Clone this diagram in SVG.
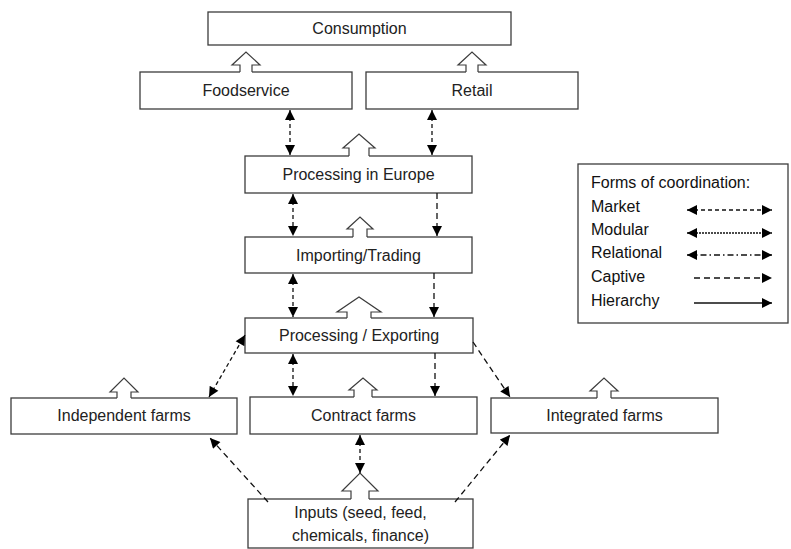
<svg xmlns="http://www.w3.org/2000/svg" width="791" height="549" viewBox="0 0 791 549">
<style>
.box{fill:#fff;stroke:#3c3c3c;stroke-width:1.3}
.t{font-family:"Liberation Sans",Arial,sans-serif;font-size:16px;fill:#222;text-anchor:middle}
.lt{font-family:"Liberation Sans",Arial,sans-serif;font-size:16px;fill:#111}
.hf{fill:#fff;stroke:none}
.ho{fill:none;stroke:#3c3c3c;stroke-width:1.2;stroke-linejoin:miter}
.c{fill:none;stroke:#111;stroke-width:1.3}
.mk{stroke-dasharray:4 3;marker-start:url(#ah);marker-end:url(#ah)}
.md{stroke-dasharray:2 1;marker-start:url(#ah);marker-end:url(#ah)}
.rl{stroke-dasharray:6 3 1.5 3;marker-start:url(#ah);marker-end:url(#ah)}
.cp{stroke-dasharray:6 4;marker-end:url(#ah)}
.hi{marker-end:url(#ah)}
</style>
<defs>
<marker id="ah" viewBox="0 0 10 10" refX="10" refY="5" markerWidth="11" markerHeight="10" markerUnits="userSpaceOnUse" orient="auto-start-reverse">
<path d="M0,0 L10,5 L0,10 z" fill="#000"/>
</marker>
</defs>
<rect width="791" height="549" fill="#fff"/>

<g id="consumption"><rect class="box" x="208" y="12" width="303" height="33"/><text class="t" x="359.5" y="34">Consumption</text></g>
<g id="foodservice"><rect class="box" x="140" y="72" width="212" height="37"/><text class="t" x="246" y="96">Foodservice</text>
<path class="hf" d="M246,52 L260,65 L252,65 L252,73 L240,73 L240,65 L232,65 Z"/><path class="ho" d="M240,72 L240,65 L232,65 L246,52 L260,65 L252,65 L252,72"/></g>
<g id="retail"><rect class="box" x="366" y="72" width="212" height="37"/><text class="t" x="472" y="96">Retail</text>
<path class="hf" d="M472,52 L486,65 L478,65 L478,73 L466,73 L466,65 L458,65 Z"/><path class="ho" d="M466,72 L466,65 L458,65 L472,52 L486,65 L478,65 L478,72"/></g>
<g id="processing-europe"><rect class="box" x="245" y="156" width="227" height="37"/><text class="t" x="358.5" y="180">Processing in Europe</text>
<path class="hf" d="M359,134 L375,148 L369,148 L369,157 L349,157 L349,148 L343,148 Z"/><path class="ho" d="M349,156 L349,148 L343,148 L359,134 L375,148 L369,148 L369,156"/></g>
<g id="importing"><rect class="box" x="245" y="237" width="227" height="36"/><text class="t" x="358.5" y="260.5">Importing/Trading</text>
<path class="hf" d="M360,217 L373,229 L367,229 L367,238 L353,238 L353,229 L347,229 Z"/><path class="ho" d="M353,237 L353,229 L347,229 L360,217 L373,229 L367,229 L367,237"/></g>
<g id="processing-exporting"><rect class="box" x="245" y="318" width="228" height="35"/><text class="t" x="359" y="340.5">Processing / Exporting</text>
<path class="hf" d="M359,297 L381,312 L371,312 L371,319 L347,319 L347,312 L337,312 Z"/><path class="ho" d="M347,318 L347,312 L337,312 L359,297 L381,312 L371,312 L371,318"/></g>
<g id="independent-farms"><rect class="box" x="11" y="398" width="226" height="36"/><text class="t" x="124" y="421">Independent farms</text>
<path class="hf" d="M124,378 L138,392 L131,392 L131,399 L117,399 L117,392 L110,392 Z"/><path class="ho" d="M117,398 L117,392 L110,392 L124,378 L138,392 L131,392 L131,398"/></g>
<g id="contract-farms"><rect class="box" x="250" y="397" width="227" height="37"/><text class="t" x="363.5" y="420.5">Contract farms</text>
<path class="hf" d="M363,378 L377,390 L372,390 L372,398 L354,398 L354,390 L349,390 Z"/><path class="ho" d="M354,397 L354,390 L349,390 L363,378 L377,390 L372,390 L372,397"/></g>
<g id="integrated-farms"><rect class="box" x="491" y="398" width="227" height="35"/><text class="t" x="604.5" y="421">Integrated farms</text>
<path class="hf" d="M604,378 L618,391 L611,391 L611,399 L597,399 L597,391 L590,391 Z"/><path class="ho" d="M597,398 L597,391 L590,391 L604,378 L618,391 L611,391 L611,398"/></g>
<g id="inputs"><rect class="box" x="248" y="499" width="225" height="49"/><text class="t" x="360.5" y="518">Inputs (seed, feed,</text><text class="t" x="360.5" y="541">chemicals, finance)</text>
<path class="hf" d="M360,473 L378,491 L369,491 L369,500 L351,500 L351,491 L342,491 Z"/><path class="ho" d="M351,499 L351,491 L342,491 L360,473 L378,491 L369,491 L369,499"/></g>

<g id="connectors">
<line class="c mk" x1="290" y1="110" x2="290" y2="155"/>
<line class="c mk" x1="432" y1="110" x2="432" y2="155"/>
<line class="c mk" x1="293" y1="194" x2="293" y2="236"/>
<line class="c mk" x1="293" y1="274" x2="293" y2="317"/>
<line class="c mk" x1="293" y1="354" x2="293" y2="396"/>
<line class="c mk" x1="209" y1="397" x2="245" y2="335"/>
<line class="c mk" x1="360" y1="435" x2="360" y2="473"/>
<line class="c cp" x1="437" y1="193" x2="437" y2="236"/>
<line class="c cp" x1="434" y1="273" x2="434" y2="317"/>
<line class="c cp" x1="435" y1="353" x2="435" y2="396"/>
<line class="c cp" x1="473" y1="342" x2="510" y2="397"/>
<line class="c cp" x1="268" y1="502" x2="210" y2="438"/>
<line class="c cp" x1="455" y1="502" x2="510" y2="435"/>
</g>

<g id="legend">
<rect class="box" x="578" y="164" width="210" height="159"/>
<text class="lt" x="591" y="188">Forms of coordination:</text>
<text class="lt" x="591" y="212">Market</text>
<text class="lt" x="591" y="235">Modular</text>
<text class="lt" x="591" y="258">Relational</text>
<text class="lt" x="591" y="282">Captive</text>
<text class="lt" x="591" y="306">Hierarchy</text>
<line class="c mk" x1="687" y1="210" x2="772" y2="210"/>
<line class="c md" x1="687" y1="233" x2="772" y2="233"/>
<line class="c rl" x1="687" y1="255" x2="772" y2="255"/>
<line class="c cp" x1="694" y1="278" x2="772" y2="278"/>
<line class="c hi" x1="694" y1="303" x2="772" y2="303"/>
</g>
</svg>
